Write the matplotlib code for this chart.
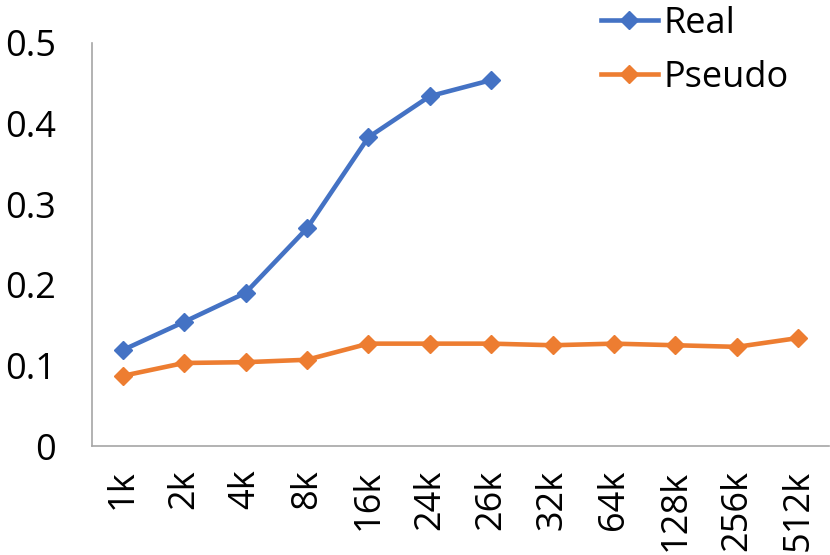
import matplotlib.pyplot as plt
import numpy as np

plt.rcParams['font.family'] = ['Open Sans', 'DejaVu Sans']

sizes = ['1k', '2k', '4k', '8k', '16k', '24k', '26k', '32k', '64k', '128k', '256k', '512k']
real = [0.119, 0.154, 0.190, 0.270, 0.383, 0.434, 0.454]
pseudo = [0.087, 0.103, 0.104, 0.107, 0.127, 0.127, 0.127, 0.125, 0.127, 0.125, 0.123, 0.134]
yticks = [0, 0.1, 0.2, 0.3, 0.4, 0.5]

fig = plt.figure(figsize=(8.3, 5.55), dpi=100)
ax = fig.add_axes([92/830, 1-446/555, 737/830, 403/555])

x = np.arange(len(sizes))
ax.plot(x[:len(real)], real, color='#4472c4', lw=3.3, marker='D', ms=9, label='Real')
ax.plot(x, pseudo, color='#ed7d31', lw=3.3, marker='D', ms=9, label='Pseudo')

ax.set_xlim(-0.5, len(sizes) - 0.5)
ax.set_ylim(0, 0.5)
ax.set_xticks(x)
ax.set_xticklabels(sizes, rotation=90, fontsize=26)
ax.set_yticks(yticks)
ax.set_yticklabels(['0', '0.1', '0.2', '0.3', '0.4', '0.5'], fontsize=26)
ax.tick_params(length=0)
ax.tick_params(axis='x', pad=17)
ax.tick_params(axis='y', pad=26)
for s in ['top', 'right']:
    ax.spines[s].set_visible(False)
for s in ['left', 'bottom']:
    ax.spines[s].set_color('#a6a6a6')
    ax.spines[s].set_linewidth(1.2)

fig.legend(loc='upper left', bbox_to_anchor=(568/830, 1.048), frameon=False,
           fontsize=26, handlelength=1.6, handletextpad=0.15, labelspacing=0.5)

fig.savefig('out.png', dpi=100)
